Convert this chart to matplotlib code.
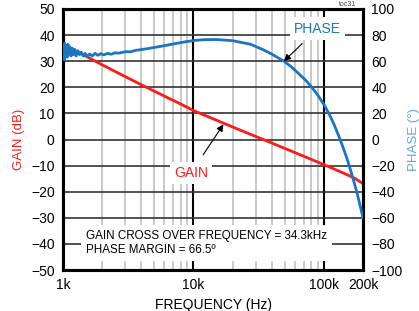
import numpy as np
import matplotlib
matplotlib.use("Agg")
import matplotlib.pyplot as plt
from matplotlib.ticker import FixedLocator, NullFormatter

plt.rcParams['font.family'] = ['Liberation Sans', 'DejaVu Sans']

# Gain (dB) vs frequency (Hz)
gain_freq = [1050, 1350, 2000, 3000, 4000, 6000, 8000, 10000, 20000, 34300, 60000, 100000,
             150000, 175000, 200000]
gain_db = [35.9, 33.1, 28.6, 24.1, 20.95, 16.6, 13.6, 11.1, 4.8, 0.0, -5.0, -9.6,
           -13.4, -15.0, -16.9]

# Phase (deg) vs frequency (Hz)
phase_freq = [1000, 1010, 1020, 1030, 1045, 1060, 1075, 1090, 1110, 1130, 1150, 1175, 1200, 1230,
              1260, 1300, 1340, 1380, 1430, 1480, 1540, 1600, 1680, 1760, 1850, 1950, 2050, 2200,
              2350, 2500, 2700, 3000, 3300, 3600, 4000, 5000, 6000, 7000, 8500, 10000, 12000,
              15000, 20000, 27400, 34300, 40000, 49500, 57000, 65000, 73000, 81000, 90000, 100000,
              110000, 120000, 130000, 140000, 150000, 160000, 170000, 180000, 190000, 200000]
phase_deg = [66, 73, 61, 74, 67, 72, 63, 73, 66, 71, 64, 70, 65, 69, 64, 68, 65, 67, 64, 66,
             63.5, 65.5, 64, 66, 64.5, 65.8, 64.8, 66, 65.3, 66.4, 66.2, 67.3, 67.2, 68.3, 68.9,
             70.5, 71.9, 73.2, 74.7, 75.8, 76.5, 76.6, 75.7, 73.0, 68.8, 65.4, 60.0, 55.3, 50.0,
             45.2, 40.0, 34.0, 27.0, 19.5, 11.5, 3.0, -5.5, -14.0, -23.0, -32.0, -41.0, -50.5,
             -60.0]

xticks = [1000, 10000, 100000, 200000]
xticklabels = ['1k', '10k', '100k', '200k']
gain_ticks = list(range(-50, 51, 10))
phase_ticks = list(range(-100, 101, 20))

RED = '#ff1a1a'
BLUE = '#1a75c2'

fig = plt.figure(figsize=(4.19, 3.11), dpi=100)
ax = fig.add_axes([63/419, 1-270/311, 300/419, 261/311])
ax.set_xscale('log')
ax.set_xlim(1000, 200000)
ax.set_ylim(-50, 50)

# grid
minor = [k * 10**e for e in (3, 4) for k in range(2, 10)]
for f in minor:
    ax.axvline(f, color='#c0c0c0', lw=1.2, zorder=1)
for f in [10000, 100000]:
    ax.axvline(f, color='black', lw=1.5, zorder=1)
for g in gain_ticks[1:-1]:
    ax.axhline(g, color='#333333', lw=1.2, zorder=1)

ax.set_xticks(xticks)
ax.set_xticklabels(xticklabels)
ax.xaxis.set_minor_locator(FixedLocator([]))
ax.xaxis.set_minor_formatter(NullFormatter())
ax.set_yticks(gain_ticks)
ax.tick_params(axis='both', length=0, labelsize=10, pad=6)
for s in ax.spines.values():
    s.set_linewidth(2.2)

ax2 = ax.twinx()
ax2.set_ylim(-100, 100)
ax2.set_yticks(phase_ticks)
ax2.tick_params(axis='y', length=0, labelsize=10, pad=6)
for s in ax2.spines.values():
    s.set_linewidth(2.2)

ax.plot(gain_freq, gain_db, color=RED, lw=2.0, zorder=3, solid_joinstyle='round')
ax2.plot(phase_freq, phase_deg, color=BLUE, lw=2.0, zorder=4, solid_joinstyle='round')

ax.set_ylabel('GAIN (dB)', color=RED, fontsize=9.5, labelpad=4)
ax2.set_ylabel('PHASE (°)', color='#5aa8e0', fontsize=9.5, labelpad=4)
ax.set_xlabel('FREQUENCY (Hz)', fontsize=10, labelpad=4)

ax2.annotate('PHASE', xy=(49500, 60), xytext=(90000, 85), fontsize=10, color=BLUE,
             ha='center', va='center', zorder=6,
             bbox=dict(boxstyle='square,pad=0.3', fc='white', ec='none'),
             arrowprops=dict(arrowstyle='-|>', color='black', lw=0.8, mutation_scale=10,
                             shrinkA=4, shrinkB=0))
ax.annotate('GAIN', xy=(17000, 5.8), xytext=(9600, -12.8), fontsize=10, color=RED,
            ha='center', va='center', zorder=6,
            bbox=dict(boxstyle='square,pad=0.3', fc='white', ec='none'),
            arrowprops=dict(arrowstyle='-|>', color='black', lw=0.8, mutation_scale=10,
                            shrinkA=6, shrinkB=0))
ax.text(1500, -39.6, 'GAIN CROSS OVER FREQUENCY = 34.3kHz\nPHASE MARGIN = 66.5º', fontsize=8.4,
        ha='left', va='center', linespacing=1.2, zorder=5,
        bbox=dict(boxstyle='square,pad=0.45', fc='white', ec='none'))
fig.text(348/419, 1-4/311, 'toc31', fontsize=5, ha='center', va='center', color='#444444')

fig.savefig('out.png', dpi=100)
